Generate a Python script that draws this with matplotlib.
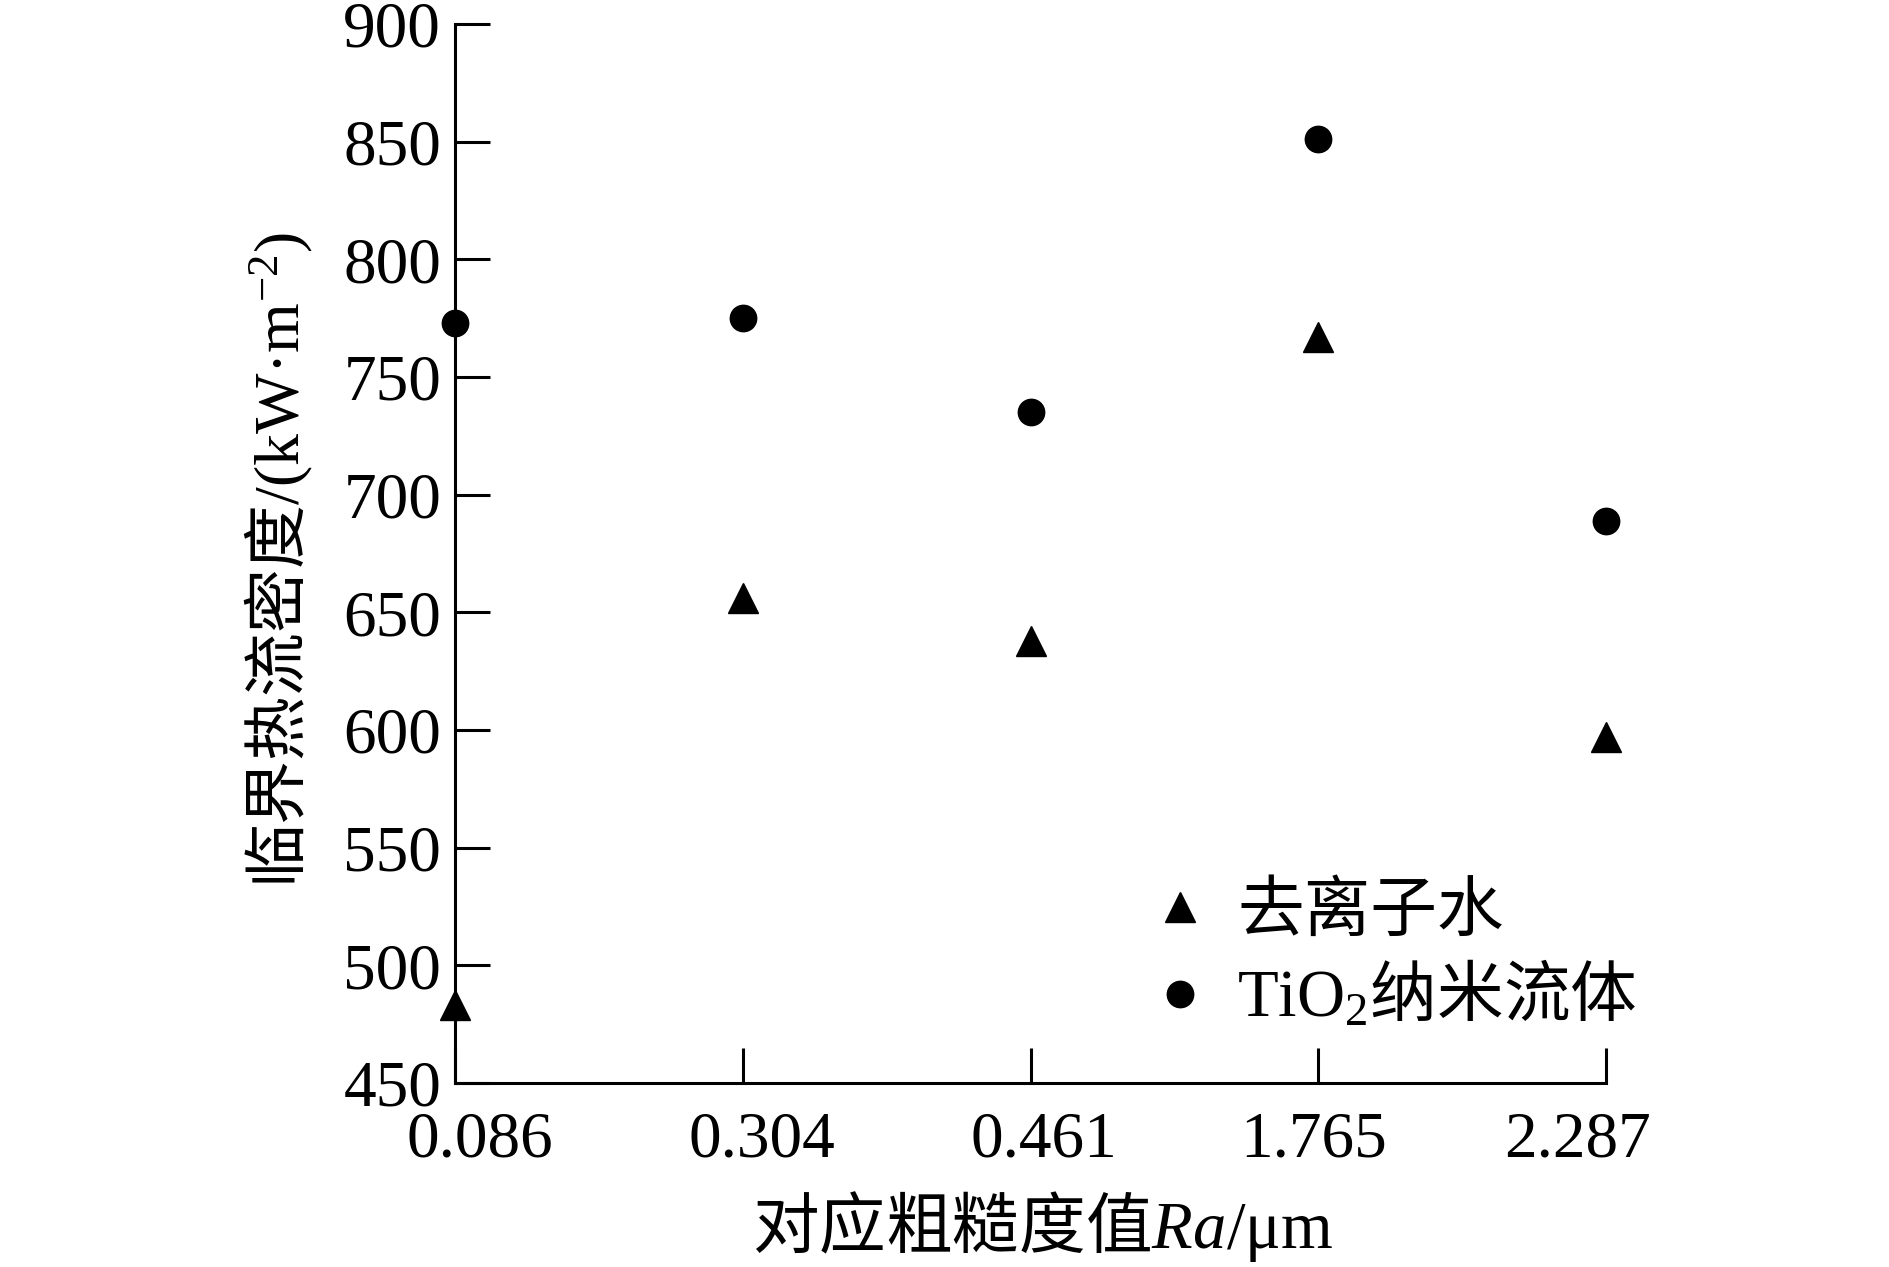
import matplotlib
matplotlib.use('Agg')
import matplotlib.pyplot as plt
from matplotlib.transforms import ScaledTranslation

# 字体：数字用 Times 风格，中文用 Noto CJK
plt.rcParams['font.family'] = ['Liberation Serif', 'Noto Sans CJK SC', 'DejaVu Sans']
plt.rcParams['mathtext.fontset'] = 'custom'
plt.rcParams['mathtext.rm'] = 'Noto Sans CJK SC'
plt.rcParams['mathtext.sf'] = 'Liberation Serif'
plt.rcParams['mathtext.it'] = 'Liberation Serif:italic'

# 数据
ra_labels = ['0.086', '0.304', '0.461', '1.765', '2.287']
water_chf = [483, 656, 638, 767, 597]      # 去离子水
tio2_chf = [773, 775, 735, 851, 689]       # TiO2 纳米流体
y_ticks = [450, 500, 550, 600, 650, 700, 750, 800, 850, 900]

fig = plt.figure(figsize=(18.89, 12.67), dpi=100)
ax = fig.add_axes([0.2409, 0.1452, 0.6093, 0.8358])

x = list(range(len(ra_labels)))
ax.plot(x, water_chf, ls='none', marker='^', ms=22, color='black',
        clip_on=False, zorder=5, label='去离子水')
ax.plot(x, tio2_chf, ls='none', marker='o', ms=19, color='black',
        clip_on=False, zorder=5, label=r'$\mathsf{TiO}_{\mathsf{2}}\mathrm{纳米流体}$')

ax.set_xlim(0, len(ra_labels) - 1)
ax.set_ylim(450, 900)
ax.set_xticks(x)
ax.set_xticklabels(ra_labels)
ax.set_yticks(y_ticks)

for side in ['top', 'right']:
    ax.spines[side].set_visible(False)
for side in ['left', 'bottom']:
    ax.spines[side].set_linewidth(2.2)

ax.tick_params(direction='in', length=25, width=2.2, labelsize=47)
ax.tick_params(axis='y', pad=10)
ax.tick_params(axis='x', pad=20)

# 原图中横轴刻度标签略微向中间挤
shifts_px = [25, 19, 13, -5, -29]
for lab, dx in zip(ax.get_xticklabels(), shifts_px):
    lab.set_transform(lab.get_transform() + ScaledTranslation(dx / 100, 0, fig.dpi_scale_trans))

ax.set_ylabel(r'$\mathrm{临界热流密度}\mathsf{/(kW·m}^{\mathsf{-2}}\mathsf{)}$', fontsize=46)
ax.yaxis.set_label_coords(-0.122, 0.494)
ax.set_xlabel(r'$\mathrm{对应粗糙度值}\mathit{Ra}\mathsf{/μm}$', fontsize=48)
ax.xaxis.set_label_coords(0.51, -0.10)

ax.legend(loc='upper left', bbox_to_anchor=(0.601, 0.189), frameon=False,
          fontsize=48, handlelength=1, handletextpad=0.355, borderpad=0,
          borderaxespad=0, labelspacing=0.24, numpoints=1)

fig.savefig('out.png', dpi=100)
